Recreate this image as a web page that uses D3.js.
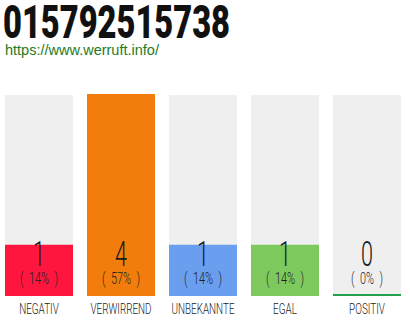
<!DOCTYPE html>
<html><head><meta charset="utf-8">
<script src="https://cdn.jsdelivr.net/npm/d3@7"></script>
<style>body{margin:0;background:#fff}</style>
</head><body>
<svg id="c" width="410" height="320"></svg>
<script>
const categories = ["NEGATIV","VERWIRREND","UNBEKANNTE","EGAL","POSITIV"];
const counts = [1,4,1,1,0];
const percents = ["( 14% )","( 57% )","( 14% )","( 14% )","( 0% )"];
const colors = ["#FF163F","#F27D0C","#6A9EEF","#7DC95E","#22A04B"];
const title = "015792515738";
const url = "https://www.werruft.info/";

const svg = d3.select("#c");
const font = "Roboto,'DejaVu Sans',sans-serif";

svg.append("text").attr("x",3).attr("y",38)
  .attr("font-family",font).attr("font-weight",900).attr("font-size",46)
  .attr("textLength",227).attr("lengthAdjust","spacingAndGlyphs")
  .attr("fill","#111").text(title);
svg.append("text").attr("x",5).attr("y",55)
  .attr("font-family","'Liberation Sans',Arial,sans-serif").attr("font-size",14.5)
  .attr("fill","#1E7B1E").text(url);

const x = d3.scaleBand().domain(categories).range([5,401]).paddingInner(14/82).paddingOuter(0);
const y = d3.scaleLinear().domain([0,d3.max(counts)]).range([296,95]);

const g = svg.append("g");
g.selectAll("rect.bg").data(categories).join("rect").attr("class","bg")
  .attr("x",d=>x(d)).attr("width",x.bandwidth()).attr("y",y(d3.max(counts))).attr("height",y(0)-y(d3.max(counts)))
  .attr("fill","#EFEFEF");
g.selectAll("rect.bar").data(counts).join("rect").attr("class","bar")
  .attr("x",(d,i)=>x(categories[i])).attr("width",x.bandwidth())
  .attr("y",d=>d>0?y(d)-1:y(0)-2).attr("height",d=>d>0?y(0)-y(d)+1:2)
  .attr("fill",(d,i)=>colors[i]);

const cx = i => x(categories[i]) + x.bandwidth()/2;
g.selectAll("text.v").data(counts).join("text").attr("class","v")
  .attr("transform",(d,i)=>`translate(${cx(i)},266) scale(0.6,1)`)
  .attr("text-anchor","middle").attr("font-family",font).attr("font-weight",300)
  .attr("font-size",36).attr("fill","#1a1a1a").text(d=>d);
g.selectAll("text.p").data(percents).join("text").attr("class","p")
  .attr("transform",(d,i)=>`translate(${cx(i)},284) scale(0.66,1)`)
  .attr("text-anchor","middle").attr("font-family",font).attr("font-weight",300)
  .attr("font-size",16.5).attr("fill","#222").text(d=>d.replace(/ /g,"\u2002"));
g.selectAll("text.c").data(categories).join("text").attr("class","c")
  .attr("transform",(d,i)=>`translate(${cx(i)},313.5) scale(0.66,1)`)
  .attr("text-anchor","middle").attr("font-family",font).attr("font-weight",300)
  .attr("font-size",15).attr("fill","#222").text(d=>d);
</script>
</body></html>
